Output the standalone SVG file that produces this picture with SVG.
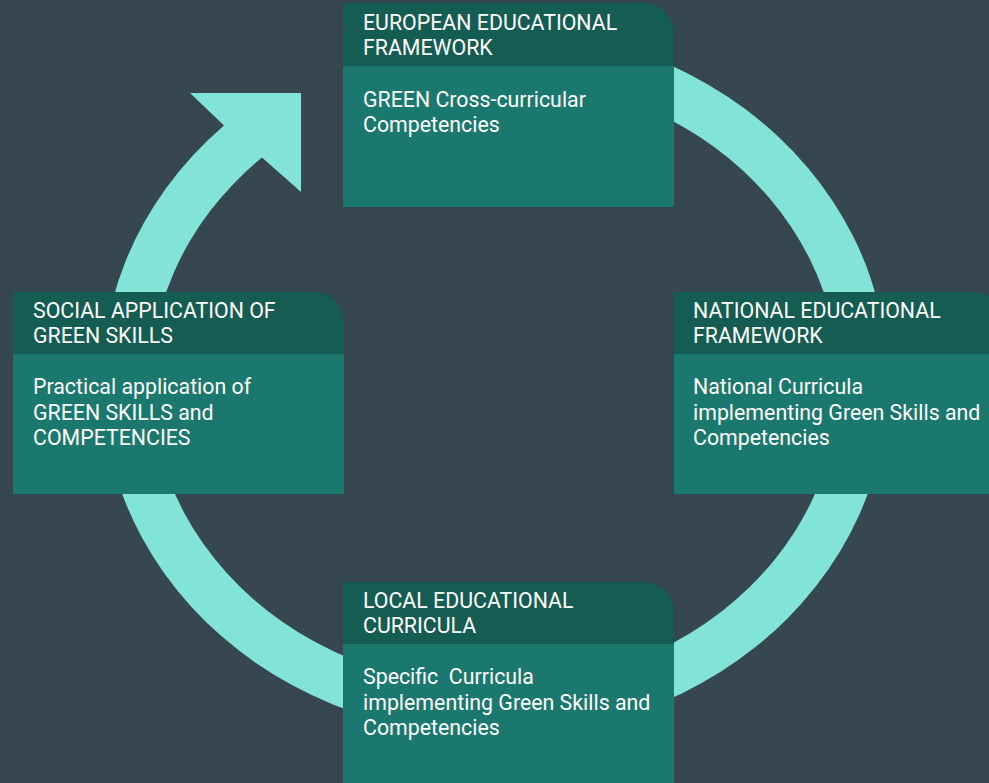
<svg xmlns="http://www.w3.org/2000/svg" width="989" height="783" viewBox="0 0 989 783">
<defs>
<style>
.hd{fill:#155C53}
.bd{fill:#1B786E}
.ring{fill:#82E4D8}
text{font-family:Roboto,"Liberation Sans",sans-serif;font-size:21.33px;fill:#FFFFFF}
</style>
</defs>
<rect width="989" height="783" fill="#37474F"/>
<g id="connectors">
<path class="ring" d="M495,28 A393,354 0 1 1 224,125.6 L190,93 L301,93 L301,192 L262,157.6 A344,305 0 1 0 495,77 Z"/>
</g>
<g id="node-european">
<rect class="bd" x="343" y="66" width="331" height="141"/>
<path class="hd" d="M343,3 H644 A30,30 0 0 1 674,33 V66 H343 Z"/>
<text x="363" y="29.5">EUROPEAN EDUCATIONAL</text>
<text x="363" y="55">FRAMEWORK</text>
<text x="363" y="107">GREEN Cross-curricular</text>
<text x="363" y="132">Competencies</text>
</g>
<g id="node-national">
<rect class="bd" x="674" y="354" width="330" height="140"/>
<path class="hd" d="M674,292 H974 A30,30 0 0 1 1004,322 V354 H674 Z"/>
<text x="693" y="317.7">NATIONAL EDUCATIONAL</text>
<text x="693" y="343.3">FRAMEWORK</text>
<text x="693" y="394.3">National Curricula</text>
<text x="693" y="420">implementing Green Skills and</text>
<text x="693" y="445.3">Competencies</text>
</g>
<g id="node-local">
<rect class="bd" x="343" y="644" width="331" height="150"/>
<path class="hd" d="M343,582 H644 A30,30 0 0 1 674,612 V644 H343 Z"/>
<text x="363" y="607.7">LOCAL EDUCATIONAL</text>
<text x="363" y="633.3">CURRICULA</text>
<text x="363" y="684.3" xml:space="preserve">Specific  Curricula</text>
<text x="363" y="710">implementing Green Skills and</text>
<text x="363" y="735.3">Competencies</text>
</g>
<g id="node-social">
<rect class="bd" x="13" y="354" width="331" height="140"/>
<path class="hd" d="M13,292 H314 A30,30 0 0 1 344,322 V354 H13 Z"/>
<text x="33" y="317.7">SOCIAL APPLICATION OF</text>
<text x="33" y="343.3">GREEN SKILLS</text>
<text x="33" y="394.3">Practical application of</text>
<text x="33" y="420">GREEN SKILLS and</text>
<text x="33" y="445.3">COMPETENCIES</text>
</g>
</svg>
